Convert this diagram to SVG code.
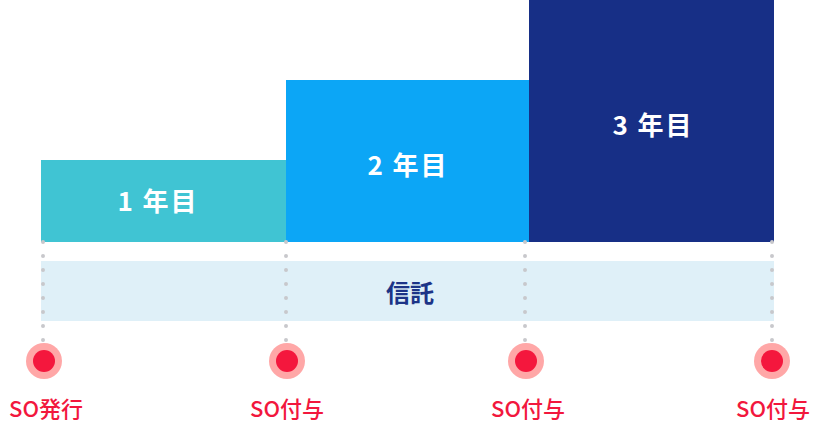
<svg xmlns="http://www.w3.org/2000/svg" width="820" height="426" viewBox="0 0 820 426">
<style>
.bt{font-family:"Noto Sans CJK JP","Noto Sans",sans-serif;font-size:26px;font-weight:700;fill:#fff;text-anchor:middle;letter-spacing:2px}
.lb{font-family:"Noto Sans CJK JP","Noto Sans",sans-serif;font-size:22px;font-weight:500;fill:#f2173d;text-anchor:middle}
.dot{stroke:#c8c8cc;stroke-width:4;stroke-linecap:round;stroke-dasharray:0 14}
.halo{fill:#ffa7a7}.core{fill:#f4173d}
</style>
<rect x="41" y="261" width="733" height="60" fill="#dff0f8"/>
<g id="bar1"><rect x="41" y="160" width="245" height="82" fill="#40c4d3"/><text class="bt" x="158" y="211">1 年目</text></g>
<g id="bar2"><rect x="286" y="80" width="243" height="162" fill="#0ca6f6"/><text class="bt" x="408" y="175">2 年目</text></g>
<g id="bar3"><rect x="529" y="0" width="245" height="242" fill="#172f86"/><text class="bt" x="653" y="135">3 年目</text></g>
<g id="trust"><text x="410" y="302" font-family="Noto Sans CJK JP,sans-serif" font-size="24" font-weight="700" fill="#1c3487" text-anchor="middle">信託</text></g>
<g id="connectors">
<line class="dot" x1="43" y1="242" x2="43" y2="341"/>
<line class="dot" x1="286" y1="242" x2="286" y2="341"/>
<line class="dot" x1="525" y1="242" x2="525" y2="341"/>
<line class="dot" x1="772" y1="242" x2="772" y2="341"/>
</g>
<g id="m1"><circle class="halo" cx="44" cy="361" r="18"/><circle class="core" cx="44" cy="361" r="11"/><text class="lb" x="46" y="417">SO発行</text></g>
<g id="m2"><circle class="halo" cx="287" cy="361" r="18"/><circle class="core" cx="287" cy="361" r="11"/><text class="lb" x="287" y="417">SO付与</text></g>
<g id="m3"><circle class="halo" cx="526" cy="361" r="18"/><circle class="core" cx="526" cy="361" r="11"/><text class="lb" x="528" y="417">SO付与</text></g>
<g id="m4"><circle class="halo" cx="772" cy="361" r="18"/><circle class="core" cx="772" cy="361" r="11"/><text class="lb" x="773" y="417">SO付与</text></g>
</svg>
